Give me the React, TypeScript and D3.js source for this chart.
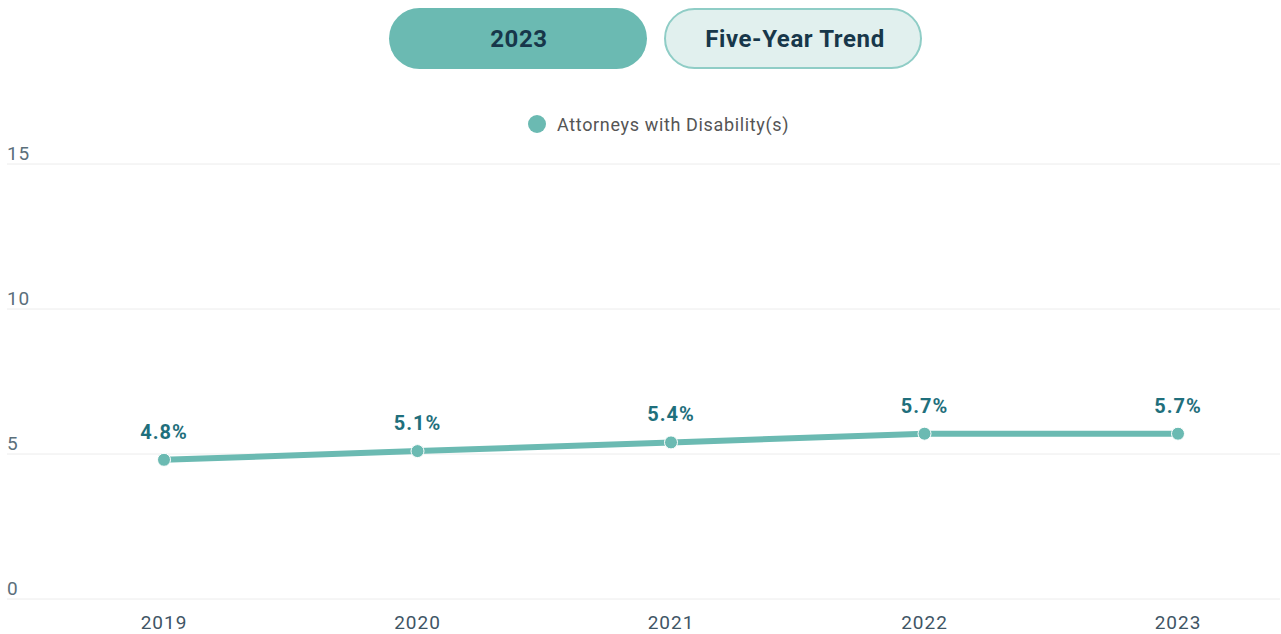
import React from "react";
import * as d3 from "d3";

const years = ["2019", "2020", "2021", "2022", "2023"];
const values = [4.8, 5.1, 5.4, 5.7, 5.7];
const yTicks = [0, 5, 10, 15];
const seriesName = "Attorneys with Disability(s)";
const buttons = ["2023", "Five-Year Trend"];

const W = 1281;
const H = 634;
const TEAL = "#6bbab2";
const FONT = "Roboto, 'Noto Sans', sans-serif";

export default function App() {
  const x = d3.scalePoint<string>().domain(years).range([164, 1178]);
  const y = d3.scaleLinear().domain([0, 15]).range([599, 164]);
  const line = d3
    .line<number>()
    .x((_, i) => x(years[i]) as number)
    .y((d) => y(d));

  return (
    <svg
      width={W}
      height={H}
      style={{ position: "absolute", left: 0, top: 0, fontFamily: FONT }}
    >
      <rect width={W} height={H} fill="#fff" />
      {/* buttons */}
      <g>
        <rect x={389} y={8} width={258} height={61} rx={30.5} fill={TEAL} />
        <text x={519} y={47} textAnchor="middle" fontSize={24} fontWeight={700} fill="#17374a" letterSpacing={0.6}>
          {buttons[0]}
        </text>
        <rect x={665} y={9} width={256} height={59} rx={29.5} fill="#e1f0ee" stroke="#8fcdc6" strokeWidth={2} />
        <text x={795} y={47} textAnchor="middle" fontSize={24} fontWeight={700} fill="#17374a" letterSpacing={0.6}>
          {buttons[1]}
        </text>
      </g>
      {/* legend */}
      <g>
        <circle cx={537} cy={124} r={9} fill={TEAL} />
        <text x={557} y={131} fontSize={18} fill="#555" letterSpacing={0.65}>
          {seriesName}
        </text>
      </g>
      {/* grid */}
      {yTicks.map((t) => (
        <g key={t}>
          <line x1={7} x2={1280} y1={y(t)} y2={y(t)} stroke="#ececec" strokeWidth={1} />
          <text x={7} y={y(t) - 4} fontSize={19} fill="#5b6f7b" letterSpacing={0.8}>
            {t}
          </text>
        </g>
      ))}
      {/* x labels */}
      {years.map((yr) => (
        <text key={yr} x={x(yr)} y={629} textAnchor="middle" fontSize={19} fill="#3f5565" letterSpacing={1}>
          {yr}
        </text>
      ))}
      {/* line */}
      <path d={line(values) || ""} fill="none" stroke={TEAL} strokeWidth={6} strokeLinejoin="round" />
      {values.map((v, i) => (
        <g key={i}>
          <circle cx={x(years[i])} cy={y(v)} r={6.5} fill={TEAL} stroke="#fff" strokeWidth={1} />
          <text
            x={x(years[i])}
            y={y(v) - 21}
            textAnchor="middle"
            fontSize={20}
            fontWeight={700}
            fill="#1f6f7c"
            letterSpacing={1}
          >
            {v.toFixed(1)}%
          </text>
        </g>
      ))}
    </svg>
  );
}
